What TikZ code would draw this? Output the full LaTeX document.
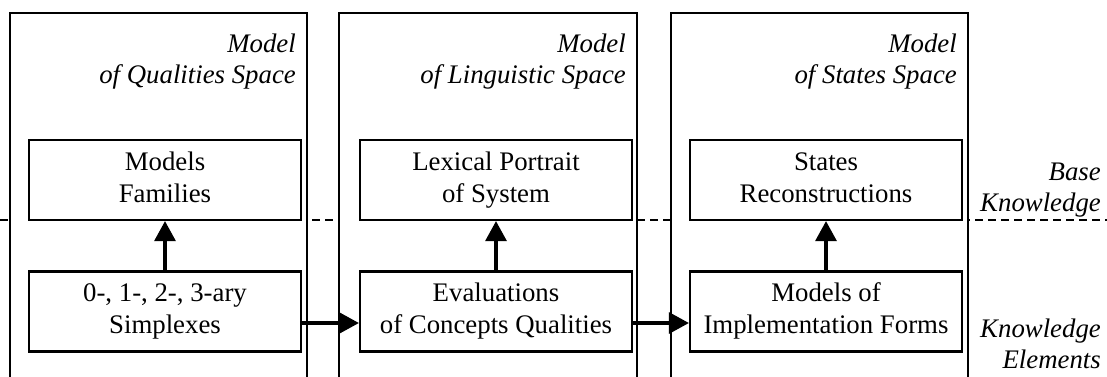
\documentclass[tikz,border=0pt]{standalone}
\usepackage{fontspec}
\setmainfont{Liberation Serif}
\usetikzlibrary{arrows.meta}
\begin{document}
\begin{tikzpicture}[x=1pt,y=-1pt,
  every node/.style={font=\fontsize{26.8}{32}\selectfont},
  colbox/.style={draw, line width=2.2pt, fill=white, anchor=north west, minimum height=400pt, inner sep=0pt, outer sep=0pt},
  itembox/.style={draw, line width=2.2pt, fill=white, minimum width=272pt, minimum height=80pt, align=center, inner sep=0pt},
  spacelabel/.style={font=\fontsize{26.8}{31}\selectfont\itshape, align=right, anchor=north east, inner sep=0pt},
  flow/.style={line width=3.2pt, -{Triangle[length=20pt,width=21pt]}},
  levelline/.style={line width=2.2pt, dash pattern=on 8pt off 5pt}]
\clip (0,0) rectangle (1107,376);
\coordinate (L) at (0,220);
\coordinate (R) at (1107,220);
\draw[levelline] (L) -- (R);
% columns
\node[colbox, minimum width=297pt] (c1) at (10,13) {};
\node[colbox, minimum width=298pt] (c2) at (339,13) {};
\node[colbox, minimum width=297pt] (c3) at (671,13) {};
% column titles
\node[spacelabel] (s1) at (296,30.3) {\strut Model\\\strut of Qualities Space};
\node[spacelabel] (s2) at (626,30.3) {\strut Model\\\strut of Linguistic Space};
\node[spacelabel] (s3) at (957,30.3) {\strut Model\\\strut of States Space};
% level labels
\node[spacelabel] (bk) at (1101,158.3) {\strut Base\\\strut Knowledge};
\node[spacelabel] (ke) at (1101,315.3) {\strut Knowledge\\\strut Elements};
% top boxes
\node[itembox] (t1) at (165,180) {\strut Models\\\strut Families};
\node[itembox] (t2) at (496,180) {\strut Lexical Portrait\\\strut of System};
\node[itembox] (t3) at (826,180) {\strut States\\\strut Reconstructions};
% bottom boxes
\node[itembox] (e1) at (165,311.5) {\strut 0-, 1-, 2-, 3-ary\\\strut Simplexes};
\node[itembox] (e2) at (496,311.5) {\strut Evaluations\\\strut of Concepts Qualities};
\node[itembox] (e3) at (826,311.5) {\strut Models of\\\strut Implementation Forms};
% arrows
\draw[flow] (e1.north) -- (t1.south);
\draw[flow] (e2.north) -- (t2.south);
\draw[flow] (e3.north) -- (t3.south);
\draw[flow] ([yshift=-11.5pt]e1.east) -- ([yshift=-11.5pt]e2.west);
\draw[flow] ([yshift=-11.5pt]e2.east) -- ([yshift=-11.5pt]e3.west);
\end{tikzpicture}
\end{document}
